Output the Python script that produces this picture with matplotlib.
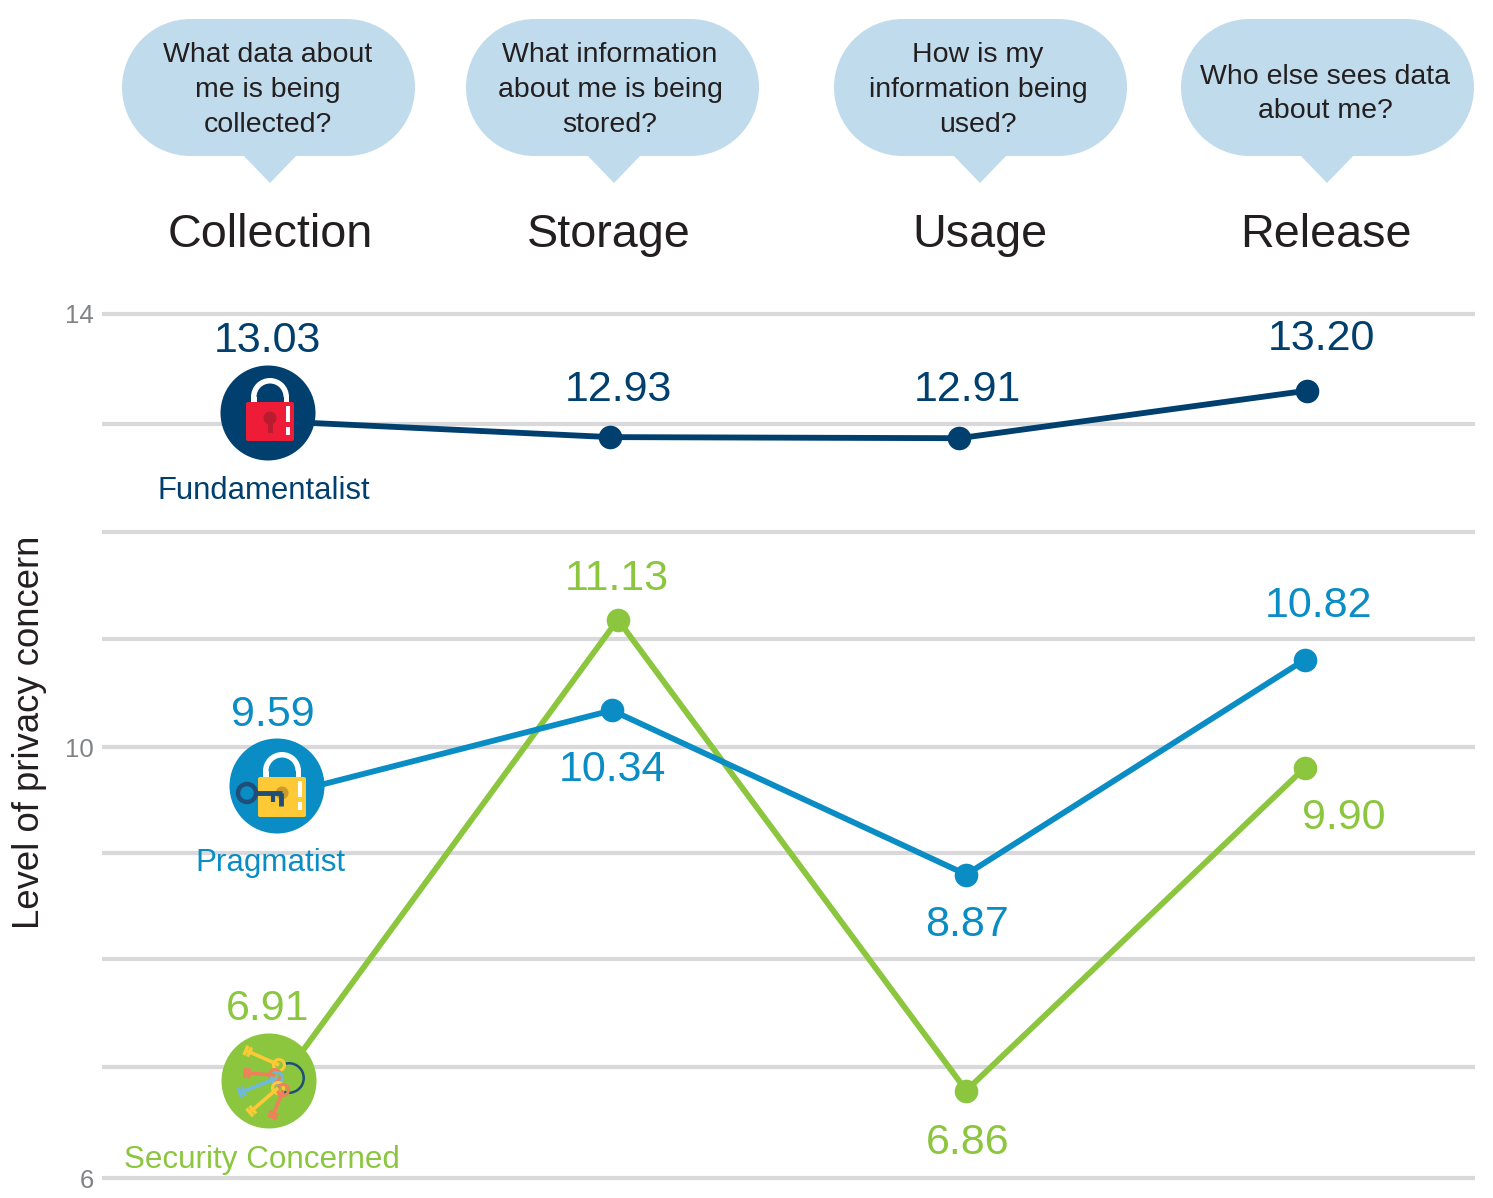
"""Privacy concern by data stage, three user groups."""
import math

import matplotlib
matplotlib.use("Agg")
import matplotlib.pyplot as plt
from matplotlib.patches import Circle, FancyBboxPatch, Polygon, Wedge, Rectangle

plt.rcParams["font.family"] = ["Liberation Sans", "DejaVu Sans"]

W, H = 1493, 1198

stages = ["Collection", "Storage", "Usage", "Release"]
questions = [
    "What data about\nme is being\ncollected?",
    "What information\nabout me is being\nstored?",
    "How is my\ninformation being\nused?",
    "Who else sees data\nabout me?",
]
# the gridlines of the picture are not quite evenly spaced
y_ticks = [6, 7.03, 8.03, 9.01, 9.99, 10.99, 11.98, 12.98, 14]
y_ticklabels = ["6", "", "", "", "10", "", "", "", "14"]

fund_x = [0.0, 0.99, 2.0, 3.006]
fund_y = [13.01, 12.86, 12.85, 13.29]
fund_labels = ["13.03", "12.93", "12.91", "13.20"]

prag_x = [0.03, 0.995, 2.02, 3.0]
prag_y = [9.54, 10.33, 8.81, 10.80]
prag_labels = ["9.59", "10.34", "8.87", "10.82"]

sec_x = [0.03, 1.012, 2.02, 3.0]
sec_y = [6.87, 11.17, 6.81, 9.80]
sec_labels = ["6.91", "11.13", "6.86", "9.90"]

NAVY = "#003f6e"
BLUE = "#0a8cc4"
GREEN = "#8cc63f"
BUBBLE = "#c0dbec"
GRID = "#d9d9db"
INK = "#231f20"

fig = plt.figure(figsize=(W / 100, H / 100), dpi=100)
fig.patch.set_facecolor("white")

# chart axes: gridlines run px 102-1475, y=14 at px 314, y=6 at px 1178
ax = fig.add_axes([102 / W, 1 - 1178 / H, (1475 - 102) / W, (1178 - 314) / H])
step = (1305 - 268) / 3
ax.set_xlim((102 - 268) / step, (1475 - 268) / step)
ax.set_ylim(6, 14)
ax.set_xticks([])
ax.set_yticks(y_ticks)
ax.set_yticklabels(y_ticklabels, fontsize=18.5, color="#808285")
ax.tick_params(axis="y", length=0, pad=6)
ax.grid(axis="y", color=GRID, lw=3.0)
for g in ax.yaxis.get_gridlines():
    g.set_clip_on(False)
    g.set_solid_capstyle("butt")
for s in ax.spines.values():
    s.set_visible(False)
ax.set_axisbelow(True)

for xs, ys, c in [(sec_x, sec_y, GREEN), (prag_x, prag_y, BLUE), (fund_x, fund_y, NAVY)]:
    ax.plot(xs, ys, color=c, lw=4.2, zorder=3, solid_capstyle="round")
    ax.plot(xs[1:], ys[1:], "o", color=c, ms=17, mew=0, zorder=4, clip_on=False)

# overlay in pixel coordinates for bubbles, icons and text
pix = fig.add_axes([0, 0, 1, 1])
pix.set_xlim(0, W)
pix.set_ylim(H, 0)
pix.axis("off")
pix.patch.set_alpha(0)


def txt(x, y, s, size, color=INK, **kw):
    pix.text(x, y, s, fontsize=size, color=color, ha="center", va="center", **kw)


# speech bubbles
bubble_left = [122, 466, 834, 1181]
tail_tip = [270, 614, 980, 1327]
q_x = [268, 610, 978, 1325]
stage_x = [270, 609, 980, 1326]
for left, tip, qx, sx, q, st in zip(bubble_left, tail_tip, q_x, stage_x, questions, stages):
    r = 68.5
    pix.add_patch(Circle((left + r, 19 + r), r, fc=BUBBLE, ec="none"))
    pix.add_patch(Circle((left + 293 - r, 19 + r), r, fc=BUBBLE, ec="none"))
    pix.add_patch(Rectangle((left + r, 19), 293 - 2 * r, 137, fc=BUBBLE, ec="none"))
    pix.add_patch(Polygon([(tip - 27, 155), (tip + 27, 155), (tip, 183)], fc=BUBBLE, ec="none"))
    txt(qx, 90 if q.count("\n") == 2 else 94, q, 20.5, linespacing=1.44)
    txt(sx, 235, st, 33.7)

txt(30, 732, "Level of privacy concern", 26.3, rotation=90)

# value labels
label_pos = [
    (fund_labels, NAVY, [(267, 341), (618, 390), (967, 390), (1321, 339)]),
    (prag_labels, BLUE, [(273, 715), (612, 770), (967, 925), (1318, 606)]),
    (sec_labels, GREEN, [(268, 1009), (617, 579), (968, 1143), (1344, 818)]),
]
for labels, c, pos in label_pos:
    for s, (x, y) in zip(labels, pos):
        txt(x, y, s, 31, color=c)

txt(264, 491, "Fundamentalist", 22.4, color=NAVY)
txt(270, 863, "Pragmatist", 22.6, color=BLUE)
txt(262, 1160, "Security Concerned", 22.6, color=GREEN)


def padlock(left, top, right, bottom, cx, shackle_top, body, hole):
    rad = (right - left) / 2 - 5
    pix.add_patch(Wedge((cx, shackle_top + rad), rad, 180, 360, width=5.5, fc="white", ec="none"))
    pix.add_patch(Rectangle((cx - rad, shackle_top + rad), 5.5, top - shackle_top - rad, fc="white", ec="none"))
    pix.add_patch(Rectangle((cx + rad - 5.5, shackle_top + rad), 5.5, top - shackle_top - rad, fc="white", ec="none"))
    pix.add_patch(FancyBboxPatch((left + 2, top + 2), right - left - 4, bottom - top - 4,
                                 boxstyle="round,pad=2,rounding_size=2", fc=body, ec="none"))
    pix.add_patch(Rectangle((right - 8, top + 4), 3.5, 16, fc="white", ec="none"))
    pix.add_patch(Rectangle((right - 8, top + 25), 3.5, 8, fc="white", ec="none"))
    pix.add_patch(Circle((cx, top + 16), 6.5, fc=hole, ec="none"))


# fundamentalist icon
pix.add_patch(Circle((268, 413), 47.5, fc=NAVY, ec="none"))
padlock(246, 402, 294, 441, 270, 378, "#ee1c36", "#b81c2e")
pix.add_patch(Rectangle((267.5, 418), 5, 15, fc="#b81c2e", ec="none"))

# pragmatist icon
pix.add_patch(Circle((277, 786), 47.5, fc=BLUE, ec="none"))
padlock(258, 777, 306, 817, 282, 752, "#fdc936", "#c99b2a")
KEY = "#1f4e79"
pix.add_patch(Circle((247, 793), 9, fc="none", ec=KEY, lw=3.2))
pix.plot([256, 282], [793, 793], color=KEY, lw=3.5, solid_capstyle="butt")
pix.plot([273, 273], [793, 802], color=KEY, lw=3, solid_capstyle="butt")
pix.plot([281, 281], [793, 806], color=KEY, lw=3.5, solid_capstyle="butt")

# security concerned icon: bunch of keys on a ring
pix.add_patch(Circle((269, 1081), 47.5, fc=GREEN, ec="none"))
pix.add_patch(Wedge((289, 1078), 16, -110, 110, width=2.5, fc=KEY, ec="none"))
KEYS = [
    ((245, 1050), (279, 1065), "#fdc936"),
    ((244, 1073), (275, 1075), "#f07f5a"),
    ((239, 1093), (277, 1078), "#6fb9dc"),
    ((249, 1113), (278, 1088), "#fdc936"),
    ((272, 1118), (283, 1090), "#f07f5a"),
]
for (x0, y0), (x1, y1), c in KEYS:
    pix.plot([x0, x1], [y0, y1], color=c, lw=2.6, solid_capstyle="butt")
    pix.add_patch(Circle((x1, y1), 5.5, fc="none", ec=c, lw=2.2))
    # bit of the key: short stubs across the shaft
    length = math.hypot(x1 - x0, y1 - y0)
    ux, uy = (x1 - x0) / length, (y1 - y0) / length
    for t in (1, 5):
        bx, by = x0 + ux * t, y0 + uy * t
        pix.plot([bx - uy * 5, bx + uy * 5], [by + ux * 5, by - ux * 5],
                 color=c, lw=2.4, solid_capstyle="butt")

fig.savefig("out.png", dpi=100)
